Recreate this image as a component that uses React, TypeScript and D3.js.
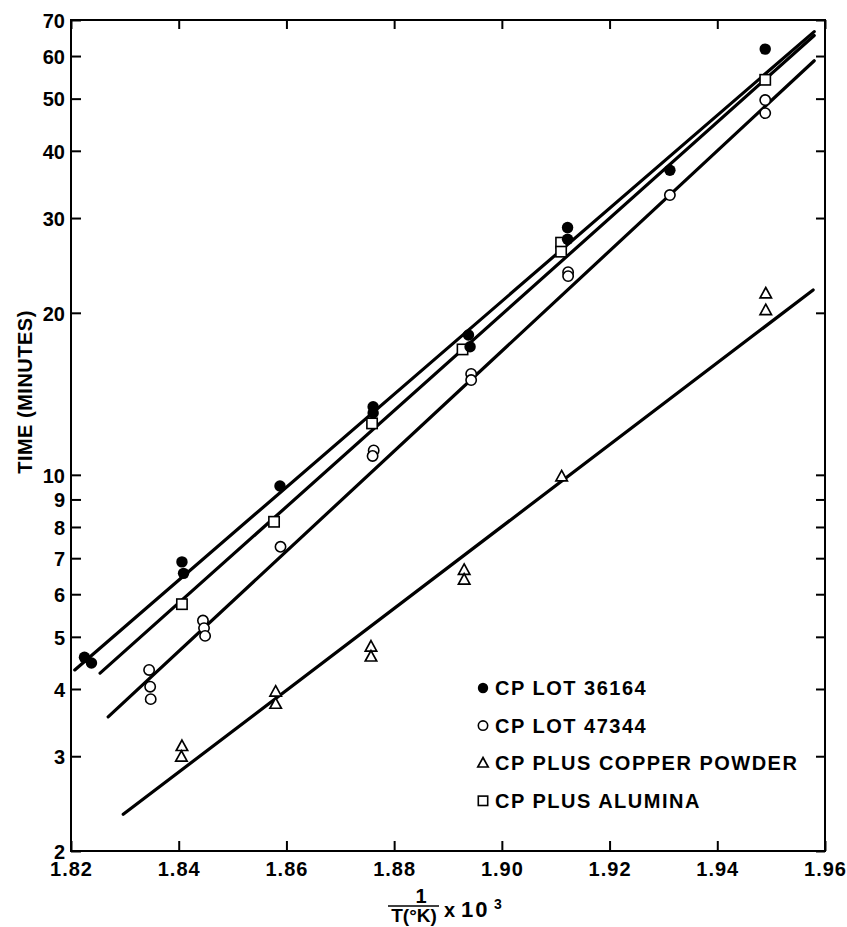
import { useEffect, useRef } from "react"
import * as d3 from "d3"

// reciprocal temperature (1/T x 10^3) and time in minutes
const lot36164X = [1.8225, 1.8238, 1.8406, 1.8409, 1.8588, 1.8761, 1.8761, 1.8938, 1.8941, 1.9122, 1.9122, 1.9312, 1.9489]
const lot36164Y = [4.58, 4.47, 6.89, 6.56, 9.53, 13.38, 13.03, 18.19, 17.3, 28.8, 27.4, 36.8, 61.8]

const lot47344X = [1.8345, 1.8347, 1.8348, 1.8445, 1.8447, 1.8449, 1.8589, 1.8762, 1.876, 1.8943, 1.8943, 1.9123, 1.9123, 1.9312, 1.9489, 1.9489]
const lot47344Y = [4.34, 4.04, 3.83, 5.36, 5.19, 5.02, 7.35, 11.1, 10.84, 15.4, 15.0, 23.8, 23.4, 33.1, 49.7, 47.0]

const copperX = [1.8406, 1.8405, 1.858, 1.858, 1.8757, 1.8757, 1.893, 1.893, 1.9111, 1.949, 1.949]
const copperY = [3.13, 2.99, 3.95, 3.75, 4.79, 4.59, 6.65, 6.38, 9.92, 21.7, 20.2]

const aluminaX = [1.8406, 1.8577, 1.8759, 1.8927, 1.911, 1.911, 1.9489]
const aluminaY = [5.75, 8.18, 12.46, 17.1, 27.0, 25.98, 54.2]

// fitted lines: [start, end]
const lot36164Fit = [[1.8207, 4.34], [1.958, 66.6]]
const lot47344Fit = [[1.8269, 3.55], [1.958, 58.8]]
const copperFit = [[1.8297, 2.34], [1.9578, 22.05]]
const aluminaFit = [[1.8254, 4.28], [1.958, 65.5]]

const xTicks = [1.82, 1.84, 1.86, 1.88, 1.9, 1.92, 1.94, 1.96]
const yTicks = [2, 3, 4, 5, 6, 7, 8, 9, 10, 20, 30, 40, 50, 60, 70]

const legendLabels = ["CP LOT 36164", "CP LOT 47344", "CP PLUS COPPER POWDER", "CP PLUS ALUMINA"]
const legendKinds = ["dot", "circle", "triangle", "square"]

const FONT = "'Liberation Sans', Arial, Helvetica, sans-serif"

export default function App() {
    const chart = useRef<SVGSVGElement>(null)
    const width = 847
    const height = 927

    useEffect(() => {
        const svg = d3.select(chart.current)
        svg.selectAll("*").remove()

        const left = 71, right = 825, top = 20, bottom = 851
        const x = d3.scaleLinear().domain([1.82, 1.96]).range([left, right])
        const y = d3.scaleLog().domain([2, 70]).range([bottom, top])

        // frame
        svg.append("rect")
            .attr("x", left).attr("y", top)
            .attr("width", right - left).attr("height", bottom - top)
            .attr("fill", "none").attr("stroke", "#000").attr("stroke-width", 2)

        // inward ticks on all four sides
        const bAxis = d3.axisBottom(x).tickValues(xTicks).tickSize(-10).tickFormat(d3.format(".2f"))
        const tAxis = d3.axisTop(x).tickValues(xTicks).tickSize(-9).tickFormat(() => "")
        const lAxis = d3.axisLeft(y).tickValues(yTicks).tickSize(-10).tickFormat(d3.format("d"))
        const rAxis = d3.axisRight(y).tickValues(yTicks).tickSize(-9).tickFormat(() => "")

        const gb = svg.append("g").attr("transform", `translate(0,${bottom})`).call(bAxis)
        const gt = svg.append("g").attr("transform", `translate(0,${top})`).call(tAxis)
        const gl = svg.append("g").attr("transform", `translate(${left},0)`).call(lAxis)
        const gr = svg.append("g").attr("transform", `translate(${right},0)`).call(rAxis)

        for (const g of [gb, gt, gl, gr]) {
            g.select(".domain").remove()
            g.selectAll(".tick line").attr("stroke", "#000").attr("stroke-width", 2)
        }
        gb.selectAll(".tick text")
            .attr("y", 0).attr("dy", 25)
            .attr("font-family", FONT).attr("font-size", 20).attr("font-weight", "bold")
            .attr("letter-spacing", 1).attr("fill", "#000")
        gl.selectAll(".tick text")
            .attr("x", -6).attr("dy", "0.36em")
            .attr("font-family", FONT).attr("font-size", 20).attr("font-weight", "bold")
            .attr("fill", "#000")

        // fitted lines
        const line = d3.line<number[]>().x(d => x(d[0])).y(d => y(d[1]))
        for (const fit of [copperFit, lot47344Fit, aluminaFit, lot36164Fit]) {
            svg.append("path")
                .datum(fit)
                .attr("d", line)
                .attr("fill", "none")
                .attr("stroke", "#000")
                .attr("stroke-width", 3.2)
                .attr("stroke-linecap", "round")
        }

        // markers
        const drawMarker = (g: any, kind: string, cx: number, cy: number, s: number) => {
            if (kind === "dot") {
                g.append("circle").attr("cx", cx).attr("cy", cy).attr("r", s * 0.52).attr("fill", "#000")
            } else if (kind === "circle") {
                g.append("circle").attr("cx", cx).attr("cy", cy).attr("r", s * 0.47)
                    .attr("fill", "#fff").attr("stroke", "#000").attr("stroke-width", 1.6)
            } else if (kind === "square") {
                g.append("rect").attr("x", cx - s * 0.47).attr("y", cy - s * 0.47)
                    .attr("width", s * 0.94).attr("height", s * 0.94)
                    .attr("fill", "#fff").attr("stroke", "#000").attr("stroke-width", 1.6)
            } else {
                const h = s * 0.95
                g.append("path")
                    .attr("d", `M${cx},${cy - h * 0.6}L${cx + s * 0.52},${cy + h * 0.4}L${cx - s * 0.52},${cy + h * 0.4}Z`)
                    .attr("fill", "#fff").attr("stroke", "#000").attr("stroke-width", 1.7)
                    .attr("stroke-linejoin", "miter")
            }
        }

        const series: [number[], number[], string][] = [
            [copperX, copperY, "triangle"],
            [lot47344X, lot47344Y, "circle"],
            [aluminaX, aluminaY, "square"],
            [lot36164X, lot36164Y, "dot"],
        ]
        const pts = svg.append("g")
        for (const [xs, ys, kind] of series) {
            xs.forEach((v, i) => drawMarker(pts, kind, x(v), y(ys[i]), 11))
        }

        // legend
        const legend = svg.append("g")
        legendLabels.forEach((label, i) => {
            const ly = 688 + i * 37.6
            drawMarker(legend, legendKinds[i], 483, ly, 10)
            legend.append("text")
                .attr("x", 495).attr("y", ly).attr("dy", "0.36em")
                .attr("font-family", FONT).attr("font-size", 20).attr("font-weight", "bold")
                .attr("letter-spacing", 1.5)
                .text(label)
        })

        // y title
        svg.append("text")
            .attr("transform", "translate(32,392) rotate(-90)")
            .attr("text-anchor", "middle")
            .attr("font-family", FONT).attr("font-size", 20).attr("font-weight", "bold")
            .attr("letter-spacing", 0.5)
            .text("TIME (MINUTES)")

        // x title: 1 / T(°K) x 10^3
        const xt = svg.append("g").attr("font-family", FONT).attr("font-weight", "bold")
        xt.append("text").attr("x", 421).attr("y", 903).attr("text-anchor", "middle")
            .attr("font-size", 20).text("1")
        xt.append("line").attr("x1", 388).attr("x2", 439).attr("y1", 906).attr("y2", 906)
            .attr("stroke", "#000").attr("stroke-width", 1.6)
        xt.append("text").attr("x", 414).attr("y", 922).attr("text-anchor", "middle")
            .attr("font-size", 19).text("T(°K)")
        xt.append("text").attr("x", 444).attr("y", 917).attr("font-size", 20).text("x")
        xt.append("text").attr("x", 461).attr("y", 917).attr("font-size", 22)
            .attr("letter-spacing", 2).text("10")
        xt.append("text").attr("x", 494).attr("y", 909).attr("font-size", 14).text("3")
    }, [])

    return (
        <div id="chartArea" style={{ position: "absolute", left: 0, top: 0 }}>
            <svg ref={chart} width={width} height={height} style={{ display: "block", background: "#fff" }}></svg>
        </div>
    )
}
